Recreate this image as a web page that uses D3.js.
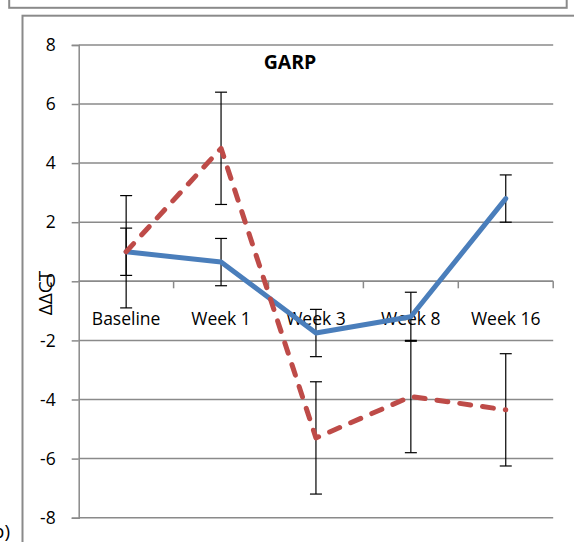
<!DOCTYPE html>
<html>
<head>
<meta charset="utf-8">
<script src="https://cdn.jsdelivr.net/npm/d3@7"></script>
<style>
  html, body { margin: 0; padding: 0; background: #fff; }
  svg { display: block; }
  text { font-family: "Open Sans", "Noto Sans", sans-serif; fill: #000; }
</style>
</head>
<body>
<svg id="chart" width="574" height="542"></svg>
<script>
// Time points on the x axis
const categories = ["Baseline", "Week 1", "Week 3", "Week 8", "Week 16"];
// Mean ΔΔCT per time point for the two groups
const seriesA = [1.0, 0.65, -1.75, -1.2, 2.8];
const seriesB = [1.0, 4.5, -5.3, -3.9, -4.35];
// Error bar half-lengths
const errorsA = [0.8, 0.8, 0.8, 0.83, 0.8];
const errorsB = [1.9, 1.9, 1.9, 1.9, 1.9];
// Y axis ticks
const yTicks = [-8, -6, -4, -2, 0, 2, 4, 6, 8];
const titleText = "GARP";
const yTitle = "ΔΔCT";

const FONT = '"Open Sans", "Noto Sans", sans-serif';
const svg = d3.select("#chart");

const plot = { left: 78.7, right: 553.2, top: 44.9, bottom: 517.7 };

const x = d3.scaleBand().domain(categories).range([plot.left, plot.right]);
const y = d3.scaleLinear().domain([-8, 8]).range([plot.bottom, plot.top]);
const cx = c => x(c) + x.bandwidth() / 2;

const gridColor = "#8a8a8a";

// Frames: the panel above and this panel's border
svg.append("rect")
  .attr("x", 9.2).attr("y", -20).attr("width", 557.5).attr("height", 27.8)
  .attr("fill", "none").attr("stroke", gridColor).attr("stroke-width", 2);
svg.append("rect")
  .attr("x", 22.5).attr("y", 15.7).attr("width", 600).attr("height", 600)
  .attr("fill", "none").attr("stroke", gridColor).attr("stroke-width", 2);

// Horizontal gridlines
svg.append("g").selectAll("line").data(yTicks).join("line")
  .attr("x1", plot.left).attr("x2", plot.right)
  .attr("y1", d => y(d)).attr("y2", d => y(d))
  .attr("stroke", gridColor).attr("stroke-width", 1.5);

// Y axis
const yAxis = d3.axisLeft(y).tickValues(yTicks).tickSize(7).tickPadding(16)
  .tickFormat(d3.format("d"));
const gy = svg.append("g").attr("transform", `translate(${plot.left},0)`).call(yAxis);
gy.select(".domain").attr("stroke", gridColor).attr("stroke-width", 1.5);
gy.selectAll(".tick line").attr("stroke", gridColor).attr("stroke-width", 1.5);
gy.selectAll(".tick text")
  .attr("font-size", 17.5).attr("font-family", FONT)
  .attr("fill", "#000")
  .text(d => d < 0 ? "-" + Math.abs(d) : String(d));

// X axis at zero, ticks on category boundaries
const gx = svg.append("g");
gx.append("line")
  .attr("x1", plot.left).attr("x2", plot.right)
  .attr("y1", y(0)).attr("y2", y(0))
  .attr("stroke", gridColor).attr("stroke-width", 1.5);
const bounds = categories.map(c => x(c)).concat([x(categories[categories.length - 1]) + x.bandwidth()]);
gx.selectAll("line.tk").data(bounds.slice(1)).join("line").attr("class", "tk")
  .attr("x1", d => d).attr("x2", d => d)
  .attr("y1", y(0)).attr("y2", y(0) + 7)
  .attr("stroke", gridColor).attr("stroke-width", 1.5);
gx.selectAll("text").data(categories).join("text")
  .attr("x", d => cx(d)).attr("y", y(0) + 44)
  .attr("text-anchor", "middle").attr("font-size", 17.5)
  .text(d => d);

// Error bars
const series = [
  { values: seriesA, errors: errorsA, color: "#4A7EBB", dash: null },
  { values: seriesB, errors: errorsB, color: "#BE4B48", dash: "11,12" }
];
const capHalf = 6;
series.forEach(s => {
  const g = svg.append("g");
  categories.forEach((c, i) => {
    const v = s.values[i], e = s.errors[i];
    const px = cx(c);
    g.append("line").attr("x1", px).attr("x2", px)
      .attr("y1", y(v + e)).attr("y2", y(v - e))
      .attr("stroke", "#000").attr("stroke-width", 1.2);
    [v + e, v - e].forEach(t => {
      g.append("line").attr("x1", px - capHalf).attr("x2", px + capHalf)
        .attr("y1", y(t)).attr("y2", y(t))
        .attr("stroke", "#000").attr("stroke-width", 1.2);
    });
  });
});

// Series lines
const line = d3.line().x((d, i) => cx(categories[i])).y(d => y(d));
series.forEach(s => {
  svg.append("path").datum(s.values)
    .attr("d", line)
    .attr("fill", "none")
    .attr("stroke", s.color)
    .attr("stroke-width", 5)
    .attr("stroke-linejoin", "round")
    .attr("stroke-linecap", "round")
    .attr("stroke-dasharray", s.dash);
});

// Chart title
svg.append("text")
  .attr("x", 290).attr("y", 69)
  .attr("text-anchor", "middle").attr("font-size", 19.5).attr("font-weight", "bold")
  .text(titleText);

// Y axis title
svg.append("text")
  .attr("transform", `translate(52,293) rotate(-90)`)
  .attr("text-anchor", "middle").attr("font-size", 19)
  .text(yTitle);

// Panel label at the lower left edge
svg.append("text")
  .attr("x", 10).attr("y", 538)
  .attr("text-anchor", "end").attr("font-size", 19)
  .text("b)");
</script>
</body>
</html>
